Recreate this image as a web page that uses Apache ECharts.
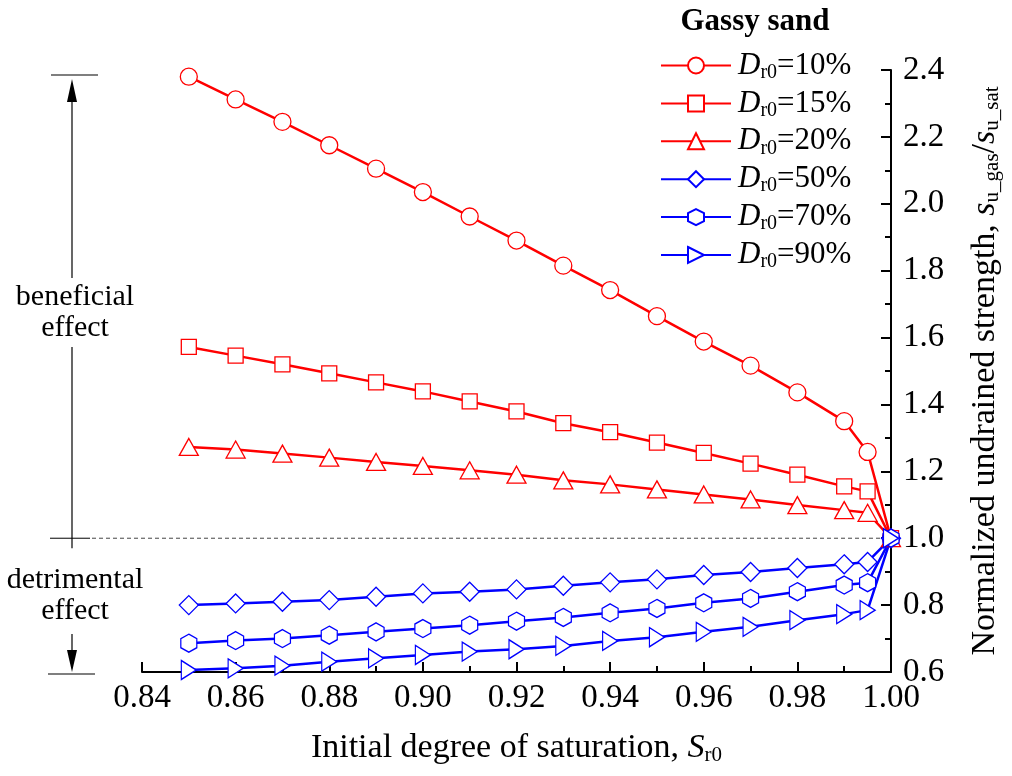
<!DOCTYPE html>
<html><head><meta charset="utf-8">
<script src="https://cdn.jsdelivr.net/npm/echarts@6/dist/echarts.min.js"></script>
<style>html,body{margin:0;padding:0;background:#fff}#c{width:1012px;height:776px}</style>
</head><body><div id="c"></div>
<script>
// Initial degree of saturation S_r0
const saturation = [0.85,0.86,0.87,0.88,0.89,0.90,0.91,0.92,0.93,0.94,0.95,0.96,0.97,0.98,0.99,0.995,1.00];
// Normalized undrained strength s_u_gas / s_u_sat
const dr10 = [2.380,2.312,2.245,2.175,2.105,2.035,1.962,1.890,1.815,1.742,1.664,1.588,1.516,1.436,1.350,1.258,1.0];
const dr15 = [1.572,1.546,1.520,1.493,1.466,1.439,1.409,1.379,1.344,1.317,1.286,1.255,1.223,1.190,1.155,1.140,1.0];
const dr20 = [1.273,1.265,1.253,1.241,1.228,1.216,1.203,1.190,1.173,1.161,1.146,1.131,1.116,1.099,1.084,1.076,1.0];
const dr50 = [0.800,0.805,0.810,0.815,0.825,0.835,0.840,0.847,0.858,0.868,0.877,0.890,0.899,0.911,0.922,0.929,1.0];
const dr70 = [0.686,0.694,0.700,0.710,0.720,0.730,0.740,0.752,0.763,0.777,0.790,0.807,0.820,0.840,0.860,0.867,1.0];
const dr90 = [0.606,0.611,0.619,0.631,0.641,0.651,0.661,0.668,0.678,0.693,0.704,0.720,0.735,0.755,0.773,0.785,1.0];
const seriesNames = ['10%','15%','20%','50%','70%','90%'];
const xTicks = {min:0.84, max:1.00, interval:0.02};
const yTicks = {min:0.6, max:2.4, interval:0.2};

const FONT = '"Liberation Serif","Times New Roman",serif';
const RED = '#ff0000', BLUE = '#0000ff';
const hexagon = 'path://M0,-1 L0.866,-0.5 L0.866,0.5 L0,1 L-0.866,0.5 L-0.866,-0.5 Z';
const rightTri = 'path://M-1,-1 L1,0 L-1,1 Z';
const styles = [
  {color:RED, symbol:'circle', size:17},
  {color:RED, symbol:'rect', size:15},
  {color:RED, symbol:'triangle', size:[19,17]},
  {color:BLUE, symbol:'diamond', size:19},
  {color:BLUE, symbol:hexagon, size:[16,18]},
  {color:BLUE, symbol:rightTri, size:[15,19]}
];
const values = [dr10, dr15, dr20, dr50, dr70, dr90];

const chart = echarts.init(document.getElementById('c'), null, {renderer:'canvas'});
const series = values.map((v,k)=>({
  name: seriesNames[k],
  type: 'line',
  data: saturation.map((x,i)=>[x, v[i]]),
  symbol: styles[k].symbol,
  symbolSize: styles[k].size,
  showAllSymbol: true,
  lineStyle: {color: styles[k].color, width: 2.5},
  itemStyle: {color: '#fff', borderColor: styles[k].color, borderWidth: 1.3},
  emphasis: {disabled: true},
  animation: false,
  z: 2
}));

const TICKF = 33, TITLEF = 34, LEGF = 31;
const option = {
  backgroundColor: '#fff',
  animation: false,
  grid: {left: 142, right: 121, top: 70, bottom: 104, containLabel: false, outerBoundsMode: 'none'},
  legend: {
    orient: 'vertical', left: 660, top: 50, padding: 0,
    itemWidth: 70, itemHeight: 20, itemGap: 5.4,
    data: seriesNames,
    formatter: n => '{i|D}{s|r0}{n|=' + n + '}',
    textStyle: {
      color: '#000', fontFamily: FONT, fontSize: LEGF, padding: [0,0,0,2],
      rich: {
        i: {fontFamily: FONT, fontSize: LEGF, fontStyle: 'italic', color:'#000'},
        s: {fontFamily: FONT, fontSize: 20, color:'#000', padding: [14,0,0,0]},
        n: {fontFamily: FONT, fontSize: LEGF, color:'#000'}
      }
    }
  },
  xAxis: {
    type: 'value', min: xTicks.min, max: xTicks.max, interval: xTicks.interval,
    name: '{t|Initial degree of saturation, }{i|S}{s|r0}',
    nameLocation: 'middle', nameGap: 58,
    nameTextStyle: {
      fontFamily: FONT, fontSize: TITLEF, color: '#000',
      rich: {
        t: {fontFamily: FONT, fontSize: TITLEF, color:'#000'},
        i: {fontFamily: FONT, fontSize: TITLEF, fontStyle:'italic', color:'#000'},
        s: {fontFamily: FONT, fontSize: 21, color:'#000', padding:[15,0,0,0]}
      }
    },
    axisLine: {show: true, lineStyle: {color:'#000', width: 2}},
    axisTick: {show: true, inside: true, length: 10, lineStyle:{color:'#000', width:2}},
    minorTick: {show: true, splitNumber: 2, length: 6, lineStyle:{color:'#000', width:2}},
    splitLine: {show: false},
    axisLabel: {fontFamily: FONT, fontSize: TICKF, color:'#000', margin: 10, formatter: v => v.toFixed(2)}
  },
  yAxis: {
    type: 'value', position: 'right', min: yTicks.min, max: yTicks.max, interval: yTicks.interval,
    name: '{t|Normalized undrained strength, }{i|s}{s|u_gas}{t|/}{i|s}{s|u_sat}',
    nameLocation: 'middle', nameGap: 76, nameRotate: 90,
    nameTextStyle: {
      fontFamily: FONT, fontSize: TITLEF, color: '#000',
      rich: {
        t: {fontFamily: FONT, fontSize: TITLEF, color:'#000'},
        i: {fontFamily: FONT, fontSize: TITLEF, fontStyle:'italic', color:'#000'},
        s: {fontFamily: FONT, fontSize: 21, color:'#000', padding:[15,0,0,0]}
      }
    },
    axisLine: {show: true, lineStyle: {color:'#000', width: 2}},
    axisTick: {show: true, inside: true, length: 10, lineStyle:{color:'#000', width:2}},
    minorTick: {show: true, splitNumber: 2, length: 6, lineStyle:{color:'#000', width:2}},
    splitLine: {show: false},
    axisLabel: {fontFamily: FONT, fontSize: TICKF, color:'#000', margin: 12, formatter: v => v.toFixed(1)}
  },
  series: series
};
chart.setOption(option);

// annotations
const p1 = chart.convertToPixel({gridIndex:0}, [1.0, 1.0]);
const yOne = p1[1], xEnd = p1[0];
const ax = 72;
const txt = (s, y) => ({type:'text', x: ax + 3, y: y, style:{text: s, font: '30px ' + FONT, fill:'#000', textAlign:'center', textVerticalAlign:'middle'}});
chart.setOption({graphic: [
  {type:'text', x: 755, y: 22, style:{text:'Gassy sand', font:'bold 31px ' + FONT, fill:'#000', textAlign:'center', textVerticalAlign:'middle'}},
  {type:'line', shape:{x1:92, y1:yOne, x2:xEnd, y2:yOne}, style:{stroke:'#444', lineWidth:1, lineDash:[4,3]}, z: 0},
  {type:'line', shape:{x1:50, y1:yOne, x2:90, y2:yOne}, style:{stroke:'#000', lineWidth:1}},
  {type:'line', shape:{x1:51, y1:75, x2:98, y2:75}, style:{stroke:'#000', lineWidth:1.2}},
  {type:'line', shape:{x1:48, y1:674, x2:95, y2:674}, style:{stroke:'#000', lineWidth:1.2}},
  {type:'line', shape:{x1:ax, y1:95, x2:ax, y2:278}, style:{stroke:'#000', lineWidth:1.2}},
  {type:'line', shape:{x1:ax, y1:347, x2:ax, y2:yOne + 10}, style:{stroke:'#000', lineWidth:1.2}},
  {type:'line', shape:{x1:ax, y1:634, x2:ax, y2:655}, style:{stroke:'#000', lineWidth:1.2}},
  {type:'polygon', shape:{points:[[ax,79],[ax-5,102],[ax+5,102]]}, style:{fill:'#000'}},
  {type:'polygon', shape:{points:[[ax,672],[ax-5,650],[ax+5,650]]}, style:{fill:'#000'}},
  txt('beneficial', 297), txt('effect', 328), txt('detrimental', 580), txt('effect', 611)
]});
</script></body></html>
